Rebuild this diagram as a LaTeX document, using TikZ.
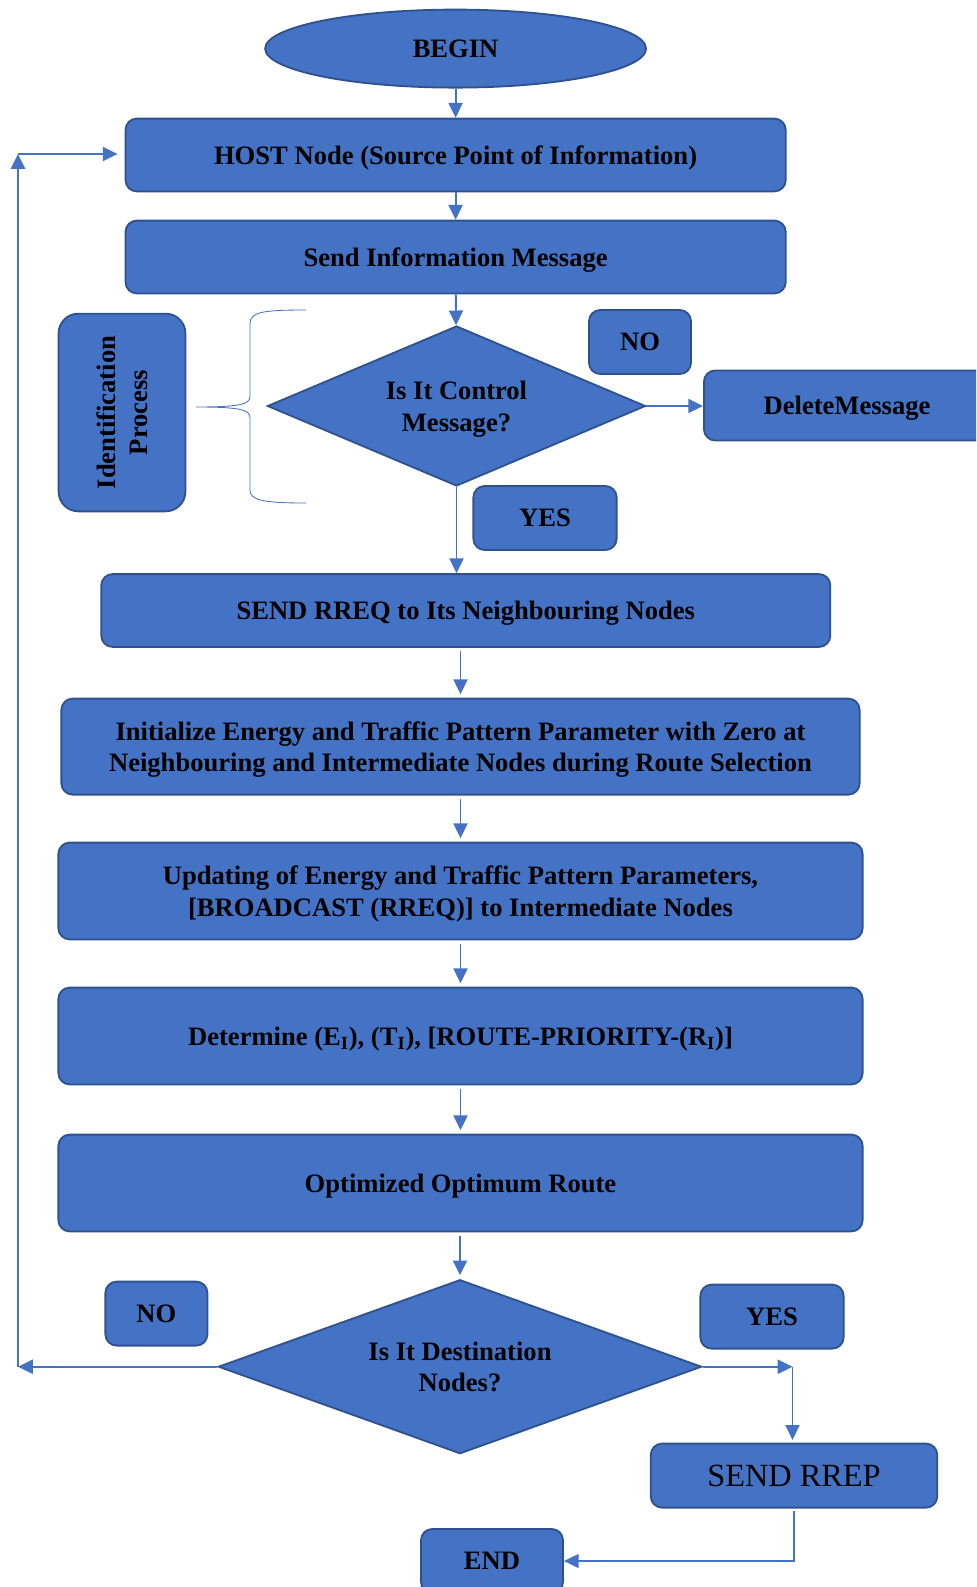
\documentclass[tikz,border=0pt]{standalone}
\usepackage{fontspec}
\setmainfont{Liberation Serif}
\usepackage{tikz}
\usetikzlibrary{arrows.meta, shapes.geometric}
\definecolor{boxblue}{RGB}{68,114,196}
\definecolor{edgenavy}{RGB}{47,82,143}

\begin{document}
\begin{tikzpicture}[
    x=0.025cm, y=-0.025cm,
    proc/.style={draw=edgenavy, line width=1.3pt, fill=boxblue, rounded corners=8pt,
                 align=center, inner sep=2pt, text depth=0pt,
                 font=\fontsize{18.9}{22.5}\selectfont\bfseries},
    mainbox/.style={proc, minimum width=20.1cm, minimum height=2.42cm},
    decide/.style={proc, diamond, sharp corners, inner sep=0pt},
    tag/.style={proc, minimum width=2.55cm, minimum height=1.6cm},
    flow/.style={-{Triangle[length=10.5pt, width=10pt]}, draw=boxblue, line width=1.3pt},
    gap/.style={shorten <=2.5pt, shorten >=2.5pt}
  ]
    \clip (0,0) rectangle (976,1587);

    \node[proc, ellipse, minimum width=9.52cm, minimum height=1.95cm] (begin)
      at (455.6,48.6) {BEGIN};
    \node[proc, minimum width=16.5cm, minimum height=1.82cm] (host)
      at (455.6,155) {HOST Node (Source Point of Information)};
    \node[proc, minimum width=16.5cm, minimum height=1.82cm] (sendinfo)
      at (455.6,257) {Send Information Message};
    \node[decide, aspect=2.36, minimum width=9.45cm, minimum height=4cm] (ctrl)
      at (456.5,406) {Is It Control\\Message?};
    \node[proc, rotate=90, rounded corners=14pt, minimum width=4.94cm,
          minimum height=3.17cm] (ident) at (122,412.5) {Identification\\Process};
    \node[tag] (nomsg) at (640,342) {NO};
    \node[proc, minimum width=7.15cm, minimum height=1.75cm] (delmsg)
      at (847,405.5) {DeleteMessage};
    \node[tag, minimum width=3.58cm] (yesmsg) at (545,518) {YES};
    \node[proc, minimum width=18.22cm, minimum height=1.82cm] (rreq)
      at (465.8,610.5) {SEND RREQ to Its Neighbouring Nodes};
    \node[mainbox, minimum width=19.95cm, minimum height=2.4cm] (init) at (460.5,746.6)
      {Initialize Energy and Traffic Pattern Parameter with Zero at\\
       Neighbouring and Intermediate Nodes during Route Selection};
    \node[mainbox] (update) at (460.5,891)
      {Updating of Energy and Traffic Pattern Parameters,\\\relax
       [BROADCAST (RREQ)] to Intermediate Nodes};
    \node[mainbox] (determ) at (460.5,1036)
      {Determine (E\textsubscript{I}), (T\textsubscript{I}),
       [ROUTE-PRIORITY-(R\textsubscript{I})]};
    \node[mainbox] (optim) at (460.5,1183) {Optimized Optimum Route};
    \node[decide, aspect=2.78, minimum width=12.08cm, minimum height=4.35cm] (dest)
      at (460,1366.7) {Is It Destination\\Nodes?};
    \node[tag] (nodest) at (156.4,1313.6) {NO};
    \node[tag, minimum width=3.58cm] (yesdest) at (772,1316.6) {YES};
    \node[proc, minimum width=7.16cm, minimum height=1.6cm,
          font=\fontsize{23}{27}\selectfont] (rrep) at (794,1475.6) {SEND RREP};
    \node[tag, minimum width=3.55cm] (end) at (492,1561) {END};

    % brace next to the identification step
    \draw[boxblue, line width=0.6pt] (306,310) .. controls (262,310) and (250,312) .. (250,324)
      -- (250,396) .. controls (250,404) and (242,407) .. (196,407)
      .. controls (242,407) and (250,410) .. (250,418)
      -- (250,490) .. controls (250,500) and (262,503) .. (306,503);

    \coordinate (loopbot) at (18,1366.7);
    \coordinate (looptop) at (18,154);
    \coordinate (yesturn) at (792.5,1366.7);

    \draw[flow] (begin) -- (host);
    \draw[flow] (host) -- (sendinfo);
    \draw[flow] (sendinfo) -- (ctrl);
    \draw[flow] (ctrl.east) -- (ctrl.east -| delmsg.west);
    \draw[flow] (ctrl.south) -- (ctrl.south |- rreq.north);
    \draw[flow, gap] (rreq.south -| init.north) -- (init.north);
    \draw[flow, gap] (init) -- (update);
    \draw[flow, gap] (update) -- (determ);
    \draw[flow, gap] (determ) -- (optim);
    \draw[flow, gap] (optim.south -| dest.north) -- (dest.north);
    \draw[flow] (dest.west) -- (loopbot);
    \draw[flow] (loopbot) -- (looptop);
    \draw[flow, shorten >=5pt] (looptop) -- (looptop -| host.west);
    \draw[flow] (dest.east) -- (yesturn);
    \draw[flow, shorten >=2pt] (yesturn) -- (yesturn |- rrep.north);
    \draw[flow, line width=1pt, shorten <=2pt] (rrep.south) |- (end.east);
  \end{tikzpicture}
\end{document}
